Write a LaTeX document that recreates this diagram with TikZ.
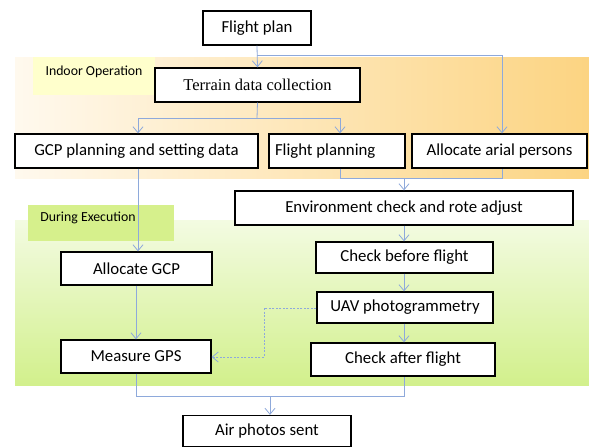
\documentclass[tikz,border=0pt]{standalone}
\usepackage{fontspec}
\setmainfont{Carlito}
\newfontfamily\serifcap{Liberation Serif}
\usetikzlibrary{arrows.meta}
\definecolor{conn}{RGB}{142,169,219}
\definecolor{orL}{RGB}{255,249,238}
\definecolor{orR}{RGB}{252,212,130}
\definecolor{grT}{RGB}{243,251,226}
\definecolor{grB}{RGB}{210,240,140}
\definecolor{lblY}{RGB}{255,255,204}
\definecolor{lblG}{RGB}{214,240,140}
\tikzset{
  box/.style={draw=black, line width=1.3pt, fill=white, inner sep=0pt, font=\fontsize{16.8}{19}\selectfont},
  link/.style={draw=conn, line width=0.8pt},
  arr/.style={link, -{Straight Barb[length=6pt,width=10pt,line width=0.8pt]}},
  dlink/.style={arr, dashed, dash pattern=on 2pt off 1.5pt},
  lbl/.style={font=\fontsize{13.8}{16}\selectfont, inner sep=0pt}
}
\begin{document}
\begin{tikzpicture}[x=1pt,y=-1pt]
\useasboundingbox (0,0) rectangle (589,447);
\fill[white] (0,0) rectangle (589,447);
% bands
\shade[left color=orL, right color=orR] (15,57) rectangle (589,178);
\shade[top color=grT, bottom color=grB] (15,220) rectangle (589,385);
\fill[lblY] (33,57) rectangle (155,95);
\node[lbl] (indoor) at (94,72) {Indoor Operation};
\fill[lblG] (28,205) rectangle (174,241);
\node[lbl] (during) at (88,218) {During Execution};
% boxes
\node[box, minimum width=108pt, minimum height=34pt] (fp) at (257,28) {Flight plan};
\node[box, minimum width=205pt, minimum height=34pt, font=\serifcap\fontsize{16.5}{19}\selectfont] (tdc) at (257.5,85) {Terrain data collection};
\node[box, minimum width=243pt, minimum height=34pt] (gcp) at (136.5,151) {GCP planning and setting data};
\node[box, minimum width=136pt, minimum height=34pt, align=flush left, text width=124pt] (fpl) at (337,151) {Flight planning};
\node[box, minimum width=175pt, minimum height=34pt] (aap) at (499.5,151) {Allocate arial persons};
\node[box, minimum width=338pt, minimum height=34pt] (env) at (404,208) {Environment check and rote adjust};
\node[box, minimum width=151pt, minimum height=33pt] (agcp) at (136.5,268.5) {Allocate GCP};
\node[box, minimum width=177pt, minimum height=31pt] (cbf) at (404.5,257.5) {Check before flight};
\node[box, minimum width=176pt, minimum height=31pt] (uav) at (405,307.5) {UAV photogrammetry};
\node[box, minimum width=150pt, minimum height=33pt] (mgps) at (136,356.5) {Measure GPS};
\node[box, minimum width=184pt, minimum height=33pt] (caf) at (403,359.5) {Check after flight};
\node[box, minimum width=168pt, minimum height=31pt] (aps) at (267,431) {Air photos sent};
% connectors
\coordinate (j1) at (257,55);
\coordinate (j1r) at (502,55);
\draw[arr] (fp.south) -- (tdc.north);
\draw[arr] (j1) -- (j1r) -- (j1r |- aap.north);
\coordinate (j2) at (257,118);
\coordinate (j2l) at (138,118);
\coordinate (j2r) at (340,118);
\draw[link] (tdc.south) -- (j2);
\draw[arr] (j2) -- (j2l) -- (j2l |- gcp.north);
\draw[arr] (j2) -- (j2r) -- (j2r |- fpl.north);
\coordinate (j3l) at (340,178);
\coordinate (j3r) at (502,178);
\coordinate (j3) at (404,178);
\draw[link] (j3l |- fpl.south) -- (j3l) -- (j3r) -- (j3r |- aap.south);
\draw[arr] (j3) -- (env.north -| j3);
\draw[arr] (j2l |- gcp.south) -- (j2l |- agcp.north);
\draw[arr] (j3 |- env.south) -- (j3 |- cbf.north);
\draw[arr] (j3 |- cbf.south) -- (j3 |- uav.north);
\draw[arr] (j3 |- uav.south) -- (j3 |- caf.north);
\coordinate (d1) at (264,308);
\coordinate (d2) at (264,357);
\draw[dlink] (uav.west |- d1) -- (d1) -- (d2) -- (mgps.east |- d2);
\draw[arr] (agcp.south -| mgps.south) -- (mgps.north);
\coordinate (j4l) at (136,396);
\coordinate (j4r) at (404,396);
\coordinate (j4) at (270,396);
\draw[link] (mgps.south) -- (j4l) -- (j4r) -- (j4r |- caf.south);
\draw[arr] (j4) -- (j4 |- aps.north);
\end{tikzpicture}
\end{document}
